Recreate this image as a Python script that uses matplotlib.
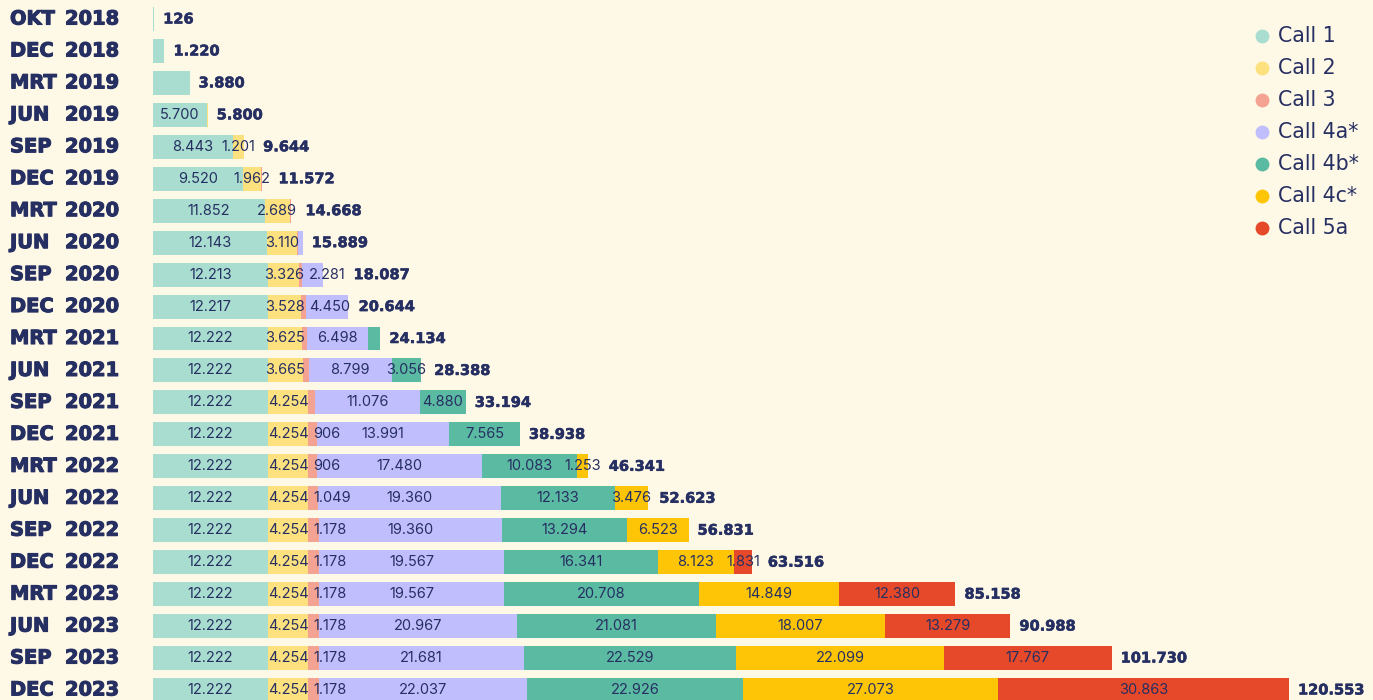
import matplotlib
matplotlib.use("Agg")
import matplotlib.pyplot as plt
import matplotlib.patheffects as pe
from matplotlib.transforms import blended_transform_factory

months = ["OKT", "DEC", "MRT", "JUN", "SEP", "DEC", "MRT", "JUN", "SEP", "DEC", "MRT",
          "JUN", "SEP", "DEC", "MRT", "JUN", "SEP", "DEC", "MRT", "JUN", "SEP", "DEC"]
years = ["2018", "2018", "2019", "2019", "2019", "2019", "2020", "2020", "2020", "2020", "2021",
         "2021", "2021", "2021", "2022", "2022", "2022", "2022", "2023", "2023", "2023", "2023"]

call1 = [126, 1220, 3880, 5700, 8443, 9520, 11852, 12143, 12213, 12217, 12222,
         12222, 12222, 12222, 12222, 12222, 12222, 12222, 12222, 12222, 12222, 12222]
call2 = [0, 0, 0, 100, 1201, 1962, 2689, 3110, 3326, 3528, 3625,
         3665, 4254, 4254, 4254, 4254, 4254, 4254, 4254, 4254, 4254, 4254]
call3 = [0, 0, 0, 0, 0, 90, 127, 150, 267, 449, 519,
         646, 762, 906, 906, 1049, 1178, 1178, 1178, 1178, 1178, 1178]
call4a = [0, 0, 0, 0, 0, 0, 0, 486, 2281, 4450, 6498,
          8799, 11076, 13991, 17480, 19360, 19360, 19567, 19567, 20967, 21681, 22037]
call4b = [0, 0, 0, 0, 0, 0, 0, 0, 0, 0, 1270,
          3056, 4880, 7565, 10083, 12133, 13294, 16341, 20708, 21081, 22529, 22926]
call4c = [0, 0, 0, 0, 0, 0, 0, 0, 0, 0, 0,
          0, 0, 0, 1253, 3476, 6523, 8123, 14849, 18007, 22099, 27073]
call5a = [0, 0, 0, 0, 0, 0, 0, 0, 0, 0, 0,
          0, 0, 0, 0, 0, 0, 1831, 12380, 13279, 17767, 30863]
totals = [126, 1220, 3880, 5800, 9644, 11572, 14668, 15889, 18087, 20644, 24134,
          28388, 33194, 38938, 46341, 52623, 56831, 63516, 85158, 90988, 101730, 120553]

series_names = ["Call 1", "Call 2", "Call 3", "Call 4a*", "Call 4b*", "Call 4c*", "Call 5a"]
series = [call1, call2, call3, call4a, call4b, call4c, call5a]
colors = ["#a8ddd0", "#fde17f", "#f4a392", "#c1befd", "#5bbaa2", "#fdc506", "#e6492a"]
unlabeled = [(10, 4)]  # (row, series) segments shown without value label

BG = "#fef8e6"
NAVY = "#262f62"

def fmt(v):
    return f"{v:,}".replace(",", ".")

n = len(totals)
W, H = 1373, 700
fig = plt.figure(figsize=(W / 100, H / 100), dpi=100, facecolor=BG)
ax_left = 153
ax = fig.add_axes([ax_left / W, 0, (W - ax_left) / W, 1])
ax.set_facecolor(BG)

row_px0, row_step = 19, 31.95
ax.set_ylim((H - row_px0) / row_step, -row_px0 / row_step)
scale = (1289 - 153) / 120553.0
ax.set_xlim(0, (W - ax_left) / scale)
for s in ax.spines.values():
    s.set_visible(False)
ax.set_xticks([])
ax.set_yticks([])

ys = list(range(n))
left = [0] * n
row_texts = [[] for _ in range(n)]
for si, (vals, col) in enumerate(zip(series, colors)):
    ax.barh(ys, vals, left=left, height=0.75, color=col, linewidth=0)
    for i in range(n):
        v = vals[i]
        nseg = sum(1 for s in series if s[i] > 0)
        if v >= 900 and nseg > 1 and (i, si) not in unlabeled:
            cx = left[i] + v / 2
            t = ax.text(cx, i, fmt(v), ha="center", va="center", color=NAVY,
                        fontsize=10.5, family=["Inter", "DejaVu Sans"])
            row_texts[i].append(t)
    left = [l + v for l, v in zip(left, vals)]

fig.canvas.draw()
renderer = fig.canvas.get_renderer()
inv = ax.transData.inverted()
for i in range(n):
    prev_end = None
    for t in row_texts[i]:
        bb = t.get_window_extent(renderer)
        if prev_end is not None and bb.x0 < prev_end + 5:
            shift = prev_end + 5 - bb.x0
            cx_px = (bb.x0 + bb.x1) / 2 + shift
            t.set_x(inv.transform((cx_px, 0))[0])
            prev_end = bb.x1 + shift
        else:
            prev_end = bb.x1

for i in range(n):
    end_px = ax.transData.transform((left[i], i))[0]
    for t in row_texts[i]:
        end_px = max(end_px, t.get_window_extent(renderer).x1 - 1)
    x_data = inv.transform((end_px + 9, 0))[0]
    ax.text(x_data, i, fmt(totals[i]), ha="left", va="center",
            color=NAVY, fontsize=10.5, fontweight="bold", family="DejaVu Sans",
            path_effects=[pe.withStroke(linewidth=0.4, foreground=NAVY)])

tr = blended_transform_factory(fig.transFigure, ax.transData)
for i in range(n):
    for xpx, txt in ((10, months[i]), (65, years[i])):
        ax.text(xpx / W, i, txt, transform=tr, ha="left", va="center",
                color=NAVY, fontsize=14, fontweight="bold", family="DejaVu Sans",
                clip_on=False, path_effects=[pe.withStroke(linewidth=0.8, foreground=NAVY)])

# legend
for k, (name, col) in enumerate(zip(series_names, colors)):
    ypx = 36 + 32 * k
    fig.lines.append(plt.Line2D([1262 / W], [1 - ypx / H], transform=fig.transFigure,
                                marker="o", markersize=10, markerfacecolor=col,
                                markeredgewidth=0, linestyle="none"))
    fig.text(1278 / W, 1 - ypx / H, name, ha="left", va="center", color=NAVY,
             fontsize=14.8, family="DejaVu Sans")

fig.savefig("out.png", dpi=100, facecolor=BG)
